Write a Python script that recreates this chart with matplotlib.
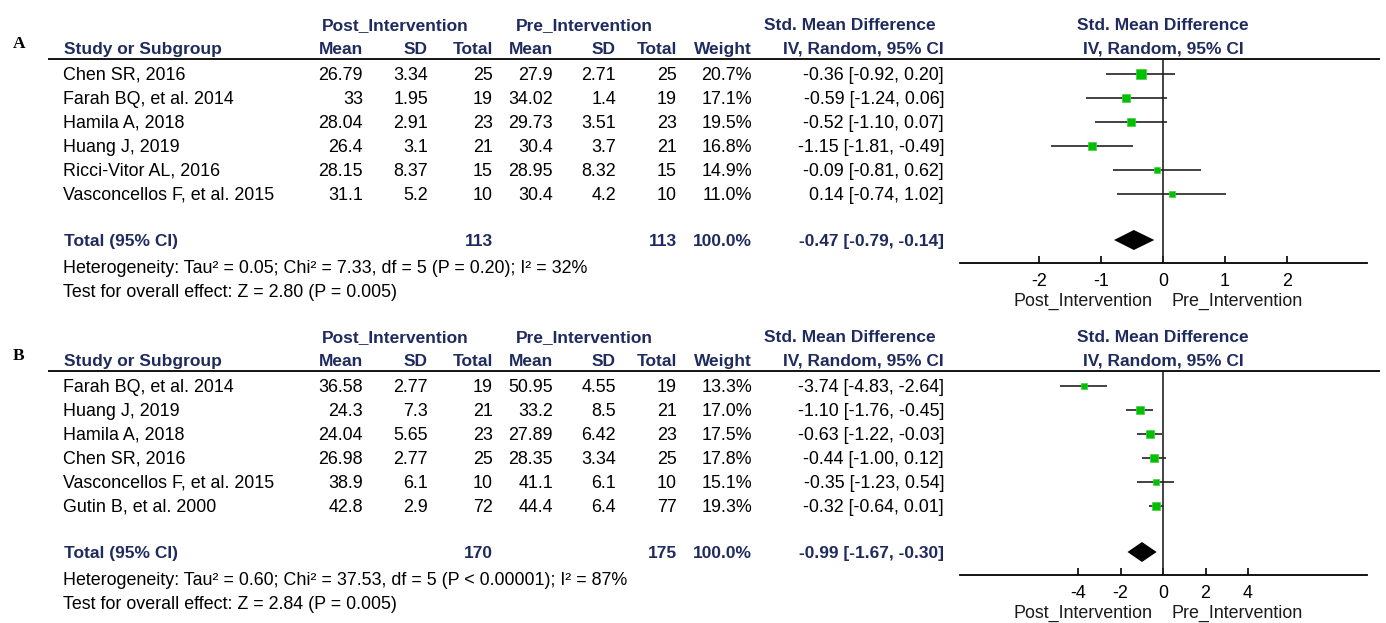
import matplotlib
matplotlib.use("Agg")
import matplotlib.pyplot as plt

# ---------------- data ----------------
studies_a = ["Chen SR, 2016", "Farah BQ, et al. 2014", "Hamila A, 2018", "Huang J, 2019",
             "Ricci-Vitor AL, 2016", "Vasconcellos F, et al. 2015"]
post_mean_a = [26.79, 33, 28.04, 26.4, 28.15, 31.1]
post_sd_a = [3.34, 1.95, 2.91, 3.1, 8.37, 5.2]
post_n_a = [25, 19, 23, 21, 15, 10]
pre_mean_a = [27.9, 34.02, 29.73, 30.4, 28.95, 30.4]
pre_sd_a = [2.71, 1.4, 3.51, 3.7, 8.32, 4.2]
pre_n_a = [25, 19, 23, 21, 15, 10]
weight_a = [20.7, 17.1, 19.5, 16.8, 14.9, 11.0]
smd_a = [-0.36, -0.59, -0.52, -1.15, -0.09, 0.14]
lo_a = [-0.92, -1.24, -1.10, -1.81, -0.81, -0.74]
hi_a = [0.20, 0.06, 0.07, -0.49, 0.62, 1.02]
total_a = {"post_n": 113, "pre_n": 113, "smd": -0.47, "lo": -0.79, "hi": -0.14}
het_a = "Heterogeneity: Tau\u00b2 = 0.05; Chi\u00b2 = 7.33, df = 5 (P = 0.20); I\u00b2 = 32%"
test_a = "Test for overall effect: Z = 2.80 (P = 0.005)"
ticks_a = [-2, -1, 0, 1, 2]

studies_b = ["Farah BQ, et al. 2014", "Huang J, 2019", "Hamila A, 2018", "Chen SR, 2016",
             "Vasconcellos F, et al. 2015", "Gutin B, et al. 2000"]
post_mean_b = [36.58, 24.3, 24.04, 26.98, 38.9, 42.8]
post_sd_b = [2.77, 7.3, 5.65, 2.77, 6.1, 2.9]
post_n_b = [19, 21, 23, 25, 10, 72]
pre_mean_b = [50.95, 33.2, 27.89, 28.35, 41.1, 44.4]
pre_sd_b = [4.55, 8.5, 6.42, 3.34, 6.1, 6.4]
pre_n_b = [19, 21, 23, 25, 10, 77]
weight_b = [13.3, 17.0, 17.5, 17.8, 15.1, 19.3]
smd_b = [-3.74, -1.10, -0.63, -0.44, -0.35, -0.32]
lo_b = [-4.83, -1.76, -1.22, -1.00, -1.23, -0.64]
hi_b = [-2.64, -0.45, -0.03, 0.12, 0.54, 0.01]
total_b = {"post_n": 170, "pre_n": 175, "smd": -0.99, "lo": -1.67, "hi": -0.30}
het_b = "Heterogeneity: Tau\u00b2 = 0.60; Chi\u00b2 = 37.53, df = 5 (P < 0.00001); I\u00b2 = 87%"
test_b = "Test for overall effect: Z = 2.84 (P = 0.005)"
ticks_b = [-4, -2, 0, 2, 4]

# ---------------- style ----------------
W, H = 1386, 623
NAVY = "#1F2B5E"
GREEN = "#00C000"
FONT = "Liberation Sans"
FS = 12.9
FSB = 12.5

fig = plt.figure(figsize=(W / 100, H / 100), dpi=100)
ov = fig.add_axes([0, 0, 1, 1])
ov.set_xlim(0, W)
ov.set_ylim(H, 0)
ov.axis("off")


def t(x, y, s, ha="left", bold=False, color="black", size=None, family=FONT):
    ov.text(x, y + 1.5, s, ha=ha, va="center", fontsize=size or (FSB if bold else FS),
            fontweight="bold" if bold else "normal", color=color, family=family)


def fmt(v):
    return f"{v:g}"


def panel(y0, label, studies, pm, psd, pn, qm, qsd, qn, w, smd, lo, hi, tot, het, test,
          ticks, ppu):
    h1, h2 = y0, y0 + 24
    line_y = y0 + 35
    row0 = y0 + 50
    step = 24
    t(13, h2 - 5, label, bold=True, size=12.5, family="Liberation Serif")
    t(395, h1, "Post_Intervention", ha="center", bold=True, color=NAVY)
    t(584, h1, "Pre_Intervention", ha="center", bold=True, color=NAVY)
    t(850, h1, "Std. Mean Difference", ha="center", bold=True, color=NAVY)
    t(1163, h1, "Std. Mean Difference", ha="center", bold=True, color=NAVY)
    t(64, h2, "Study or Subgroup", bold=True, color=NAVY)
    for x, s in [(363, "Mean"), (428, "SD"), (493, "Total"), (553, "Mean"), (616, "SD"),
                 (677, "Total"), (752, "Weight"), (944, "IV, Random, 95% CI")]:
        t(x, h2, s, ha="right", bold=True, color=NAVY)
    t(1163, h2, "IV, Random, 95% CI", ha="center", bold=True, color=NAVY)
    ov.plot([48, 1380], [line_y, line_y], color="black", lw=1.3, solid_capstyle="butt")

    for i, s in enumerate(studies):
        y = row0 + step * i
        t(63, y, s)
        t(363, y, fmt(pm[i]), ha="right")
        t(428, y, fmt(psd[i]), ha="right")
        t(493, y, str(pn[i]), ha="right")
        t(553, y, fmt(qm[i]), ha="right")
        t(616, y, fmt(qsd[i]), ha="right")
        t(677, y, str(qn[i]), ha="right")
        t(752, y, f"{w[i]:.1f}%", ha="right")
        t(944, y, f"{smd[i]:.2f} [{lo[i]:.2f}, {hi[i]:.2f}]", ha="right")

    ty = y0 + 216
    t(64, ty, "Total (95% CI)", bold=True, color=NAVY)
    t(493, ty, str(tot["post_n"]), ha="right", bold=True, color=NAVY)
    t(677, ty, str(tot["pre_n"]), ha="right", bold=True, color=NAVY)
    t(752, ty, f"{sum(w):.1f}%", ha="right", bold=True, color=NAVY)
    t(944, ty, f"{tot['smd']:.2f} [{tot['lo']:.2f}, {tot['hi']:.2f}]", ha="right",
      bold=True, color=NAVY)
    t(63, y0 + 243, het)
    t(63, y0 + 267, test)

    # forest axes
    axis_y = y0 + 239
    x_left, x_right, x0 = 960, 1367, 1163
    ax = fig.add_axes([x_left / W, (H - axis_y) / H, (x_right - x_left) / W,
                       (axis_y - line_y) / H])
    ax.set_xlim((x_left - x0) / ppu, (x_right - x0) / ppu)
    ylo = (line_y - row0) / step
    yhi = (axis_y - row0) / step
    ax.set_ylim(yhi, ylo)
    ax.patch.set_alpha(0)
    for sp in ["top", "left", "right"]:
        ax.spines[sp].set_visible(False)
    ax.spines["bottom"].set_linewidth(1.3)
    ax.set_yticks([])
    ax.set_xticks(ticks)
    ax.set_xticklabels([str(v) for v in ticks], fontsize=FS, family=FONT)
    ax.tick_params(axis="x", direction="in", length=5, width=1.2, pad=7)
    ax.axvline(0, color="#222222", lw=1.2)
    ys = list(range(len(studies)))
    ax.hlines(ys, lo, hi, color="#222222", lw=1.2)
    for i in ys:
        side_px = 0.46 * w[i]
        ax.plot(smd[i], i, marker="s", ms=side_px * 0.72, color=GREEN, mec="#40D040",
                mew=0.5, zorder=3)
    yt = (ty - row0) / step
    dh = 10 / step
    ax.fill([tot["lo"], tot["smd"], tot["hi"], tot["smd"]],
            [yt, yt - dh, yt, yt + dh], color="black", lw=0, zorder=3)

    t(1083, y0 + 276, "Post_Intervention", ha="center", color="#1a1a1a")
    t(1237, y0 + 276, "Pre_Intervention", ha="center", color="#1a1a1a")


panel(24, "A", studies_a, post_mean_a, post_sd_a, post_n_a, pre_mean_a, pre_sd_a, pre_n_a,
      weight_a, smd_a, lo_a, hi_a, total_a, het_a, test_a, ticks_a, 62.0)
panel(336, "B", studies_b, post_mean_b, post_sd_b, post_n_b, pre_mean_b, pre_sd_b, pre_n_b,
      weight_b, smd_b, lo_b, hi_b, total_b, het_b, test_b, ticks_b, 21.25)

fig.savefig("out.png", dpi=100, facecolor="white")
